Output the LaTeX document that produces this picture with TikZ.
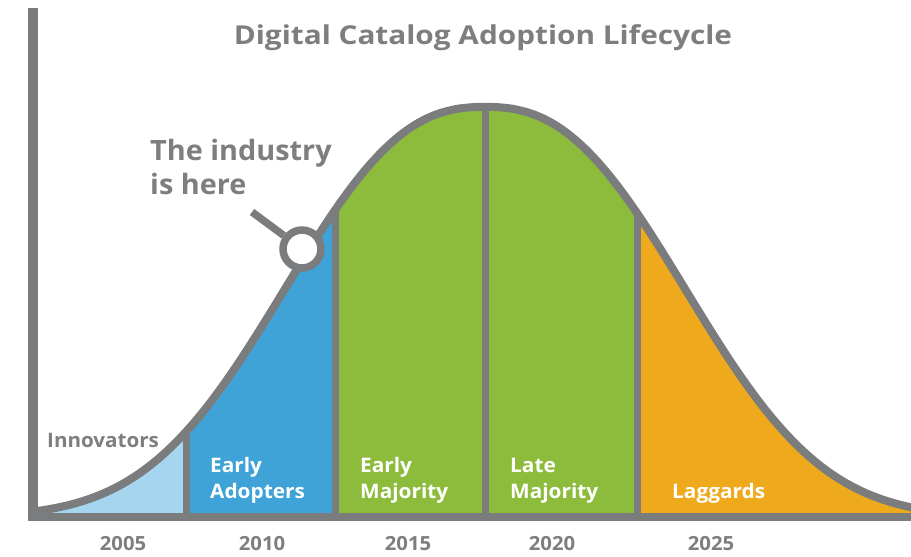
\documentclass[tikz,border=0pt]{standalone}
\usepackage{fontspec}
\setmainfont{Open Sans}
\definecolor{axisgray}{RGB}{123,124,126}
\definecolor{txtgray}{RGB}{125,126,128}
\definecolor{lightblue}{RGB}{166,213,240}
\definecolor{midblue}{RGB}{64,163,216}
\definecolor{leafgreen}{RGB}{141,188,61}
\definecolor{amber}{RGB}{238,170,28}
\tikzset{
  graystroke/.style={draw=axisgray, line width=8pt},
  divider/.style={draw=axisgray, line width=7pt},
  whitelbl/.style={text=white, font=\bfseries\fontsize{20}{26}\selectfont, align=left, anchor=base west, inner sep=0pt, xscale=1.04, transform shape},
  yearlbl/.style={text=txtgray, font=\bfseries\fontsize{19.5}{22}\selectfont, anchor=base, inner sep=0pt, xscale=1.04, transform shape},
  bell/.style={domain=38:920, samples=221, smooth},
}
\newcommand{\bellfn}[1]{517-410*exp(-((abs(#1-485)+0.01)/248.7)^2.45)}
\begin{document}
\begin{tikzpicture}[x=1pt,y=-1pt]
\useasboundingbox (0,0) rectangle (911,557);
\fill[white] (0,0) rectangle (911,557);
% filled regions under the curve
\begin{scope}
\clip plot[bell] (\x, {\bellfn{\x}}) -- (920,517) -- (38,517) -- cycle;
\fill[lightblue] (30,90) rectangle (186,520);
\fill[midblue] (186,90) rectangle (335,520);
\fill[leafgreen] (335,90) rectangle (637,520);
\fill[amber] (637,90) rectangle (920,520);
\coordinate (d1b) at (186,517); \coordinate (d1t) at (186,90);
\coordinate (d2b) at (335,517); \coordinate (d2t) at (335,90);
\coordinate (d3b) at (485,517); \coordinate (d3t) at (485,90);
\coordinate (d4b) at (637,517); \coordinate (d4t) at (637,90);
\draw[divider] (d1b) -- (d1t);
\draw[divider] (d2b) -- (d2t);
\draw[divider] (d3b) -- (d3t);
\draw[divider] (d4b) -- (d4t);
\end{scope}
% curve
\draw[graystroke] plot[bell] (\x, {\bellfn{\x}});
% axes
\coordinate (ytop) at (33,8);
\coordinate (ybot) at (33,521);
\coordinate (xstart) at (28,517);
\coordinate (xend) at (911,517);
\draw[draw=axisgray, line width=10pt] (ytop) -- (ybot);
\draw[draw=axisgray, line width=8.5pt] (xstart) -- (xend);
% marker
\coordinate (leadstart) at (252,212);
\node[circle, draw=axisgray, line width=7.5pt, fill=white, minimum size=38pt, inner sep=0pt] (marker) at (302,249) {};
\draw[graystroke, line width=7.5pt] (leadstart) -- (marker);
% texts
\node[text=txtgray, font=\bfseries\fontsize{26}{30}\selectfont, anchor=base, inner sep=0pt, xscale=1.145, transform shape] (title) at (483,44) {Digital Catalog Adoption Lifecycle};
\node[text=txtgray, font=\bfseries\fontsize{28}{34}\selectfont, align=left, anchor=base west, inner sep=0pt, xscale=1.03, transform shape] (here) at (150,194) {The industry\\is here};
\node[text=txtgray, font=\bfseries\fontsize{20}{24}\selectfont, anchor=base west, inner sep=0pt, xscale=1.03, transform shape] (innov) at (47,447) {Innovators};
\node[whitelbl] (adopt) at (210,498) {Early\\Adopters};
\node[whitelbl] (earlymaj) at (360,498) {Early\\Majority};
\node[whitelbl] (latemaj) at (510,498) {Late\\Majority};
\node[whitelbl] (lag) at (672,498) {Laggards};
\node[yearlbl] (y05) at (123,550) {2005};
\node[yearlbl] (y10) at (262,550) {2010};
\node[yearlbl] (y15) at (408,550) {2015};
\node[yearlbl] (y20) at (552,550) {2020};
\node[yearlbl] (y25) at (711,550) {2025};
\end{tikzpicture}
\end{document}
